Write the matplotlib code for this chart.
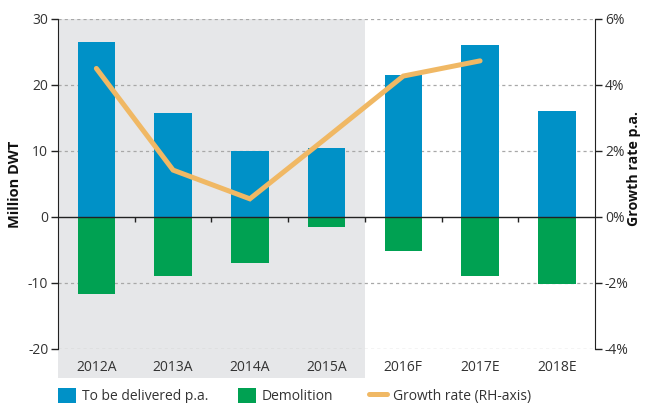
import matplotlib
matplotlib.use("Agg")
import matplotlib.pyplot as plt
import matplotlib.transforms as mtransforms
from matplotlib.patches import Rectangle, Patch
from matplotlib.lines import Line2D
import numpy as np

categories = ["2012A", "2013A", "2014A", "2015A", "2016F", "2017E", "2018E"]
delivered = [26.5, 15.7, 10.0, 10.4, 21.5, 26.0, 16.0]
demolition = [-11.7, -9.0, -7.0, -1.5, -5.2, -9.0, -10.2]
growth = [4.5, 1.42, 0.55, 2.4, 4.27, 4.73]  # % for first six categories
left_ticks = [-20, -10, 0, 10, 20, 30]
right_ticks = [-4, -2, 0, 2, 4, 6]
n_actual = 4

BLUE = "#0091C7"
GREEN = "#00A152"
ORANGE = "#F0B864"
GRAY = "#E6E7E9"
TXT = "#333333"

plt.rcParams['font.family'] = ['Open Sans', 'DejaVu Sans']
plt.rcParams['font.size'] = 10

fig = plt.figure(figsize=(6.48, 4.03), dpi=100)
ax = fig.add_axes([0.0895, 0.134, 0.829, 0.819])
ax2 = ax.twinx()

x = np.arange(len(categories))
ax.set_xlim(-0.5, len(categories) - 0.5)
ax.set_ylim(-20, 30)
ax2.set_ylim(-4, 6)

# shaded actual region
trans = mtransforms.blended_transform_factory(ax.transData, ax.transAxes)
rect = Rectangle((-0.5, -0.088), n_actual, 1.088, transform=trans,
                 facecolor=GRAY, edgecolor='none', clip_on=False, zorder=0)
ax.add_patch(rect)

# grid lines
for t in left_ticks:
    if t != 0:
        ax.axhline(t, color="#A8A8A8", lw=0.9, ls=(0, (2.5, 2.5)), zorder=1)

ax.bar(x, delivered, width=0.49, color=BLUE, zorder=2)
ax.bar(x, demolition, width=0.49, color=GREEN, zorder=2)
ax.axhline(0, color="#222222", lw=1.0, zorder=3)

# category ticks on zero line (between categories)
for b in np.arange(0.5, len(categories) - 0.5, 1.0):
    ax.plot([b, b], [0, -0.8], color="#222222", lw=1.0, zorder=3, solid_capstyle='butt')

ax2.plot(x[:len(growth)], growth, color=ORANGE, lw=3.6, solid_capstyle='round',
         solid_joinstyle='miter', zorder=4)
ax.set_zorder(ax2.get_zorder() - 1)
ax.patch.set_visible(False)
ax2.patch.set_visible(False)
ax2.set_zorder(5)

# category labels
for xi, c in zip(x, categories):
    ax.text(xi, -0.055, c, transform=trans, ha='center', va='center',
            color=TXT, fontsize=10)

ax.set_xticks([])
for s in ['top', 'bottom', 'right']:
    ax.spines[s].set_visible(False)
for s in ['top', 'bottom', 'left']:
    ax2.spines[s].set_visible(False)
ax.spines['left'].set_color("#222222")
ax2.spines['right'].set_color("#222222")

ax.set_yticks(left_ticks)
ax.set_yticklabels([str(t) for t in left_ticks])
ax2.set_yticks(right_ticks)
ax2.set_yticklabels([f"{t}%" for t in right_ticks])
ax.tick_params(axis='y', length=5, width=1, color="#222222", labelcolor=TXT, labelsize=10, pad=2)
ax2.tick_params(axis='y', length=5, width=1, color="#222222", labelcolor=TXT, labelsize=10, pad=2)

ax.set_ylabel("Million DWT", fontweight='bold', fontsize=10.5, color="#111111", labelpad=4)
ax2.set_ylabel("Growth rate p.a.", fontweight='bold', fontsize=10.2, color="#111111",
               rotation=90, va='center', ha='center')
ax2.yaxis.set_label_coords(1.072, 0.548)

legend_items = [
    (Patch(facecolor=BLUE, edgecolor='none'), "To be delivered p.a.", 0.089),
    (Patch(facecolor=GREEN, edgecolor='none'), "Demolition", 0.367),
    (Line2D([0], [0], color=ORANGE, lw=3.6, solid_capstyle='round'), "Growth rate (RH-axis)", 0.569),
]
for h, lab, xpos in legend_items:
    fig.legend([h], [lab], loc='center left', bbox_to_anchor=(xpos, 0.018),
               frameon=False, handlelength=1.3, handleheight=1.3,
               handletextpad=0.45, fontsize=10, labelcolor=TXT, borderaxespad=0,
               borderpad=0)

fig.savefig("out.png", dpi=100)
